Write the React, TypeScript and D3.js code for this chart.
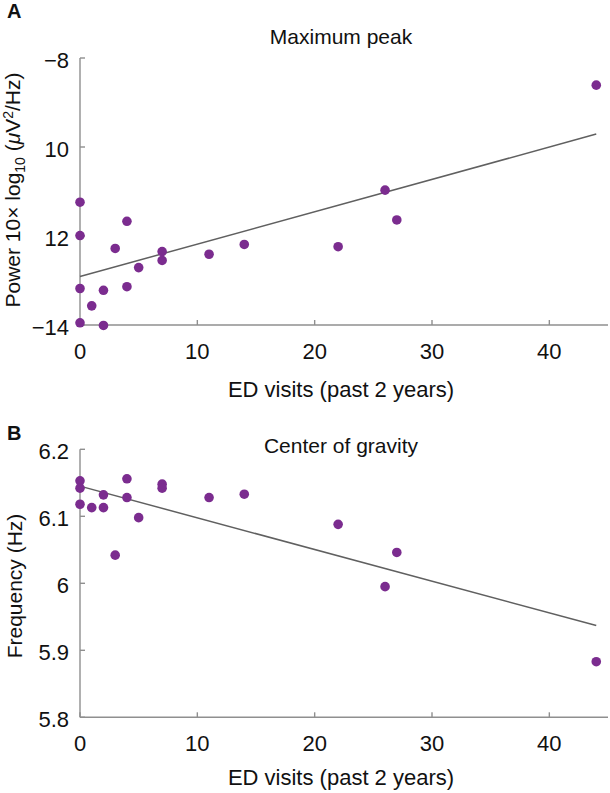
import React from "react";
import * as d3 from "d3";

// Panel A: Maximum peak
const edVisitsA = [0, 0, 0, 0, 1, 2, 2, 3, 4, 4, 5, 7, 7, 11, 14, 22, 26, 27, 44];
const powerA = [-11.24, -11.99, -13.18, -13.95, -13.57, -13.22, -14.01, -12.28, -11.67, -13.14, -12.71, -12.35, -12.55, -12.41, -12.19, -12.24, -10.97, -11.64, -8.61];
const fitXA = [0, 44];
const fitYA = [-12.91, -9.71];
const yTicksA = [-8, -10, -12, -14];
const yTickLabelsA = ["\u22128", "10", "12", "\u221214"];

// Panel B: Center of gravity
const edVisitsB = [0, 0, 0, 1, 2, 2, 3, 4, 4, 5, 7, 7, 11, 14, 22, 26, 27, 44];
const freqB = [6.153, 6.142, 6.118, 6.113, 6.132, 6.113, 6.042, 6.156, 6.128, 6.098, 6.148, 6.142, 6.128, 6.133, 6.088, 5.995, 6.046, 5.883];
const fitXB = [0, 44];
const fitYB = [6.145, 5.937];
const yTicksB = [5.8, 5.9, 6.0, 6.1, 6.2];
const yTickLabelsB = ["5.8", "5.9", "6", "6.1", "6.2"];

const xTicks = [0, 10, 20, 30, 40];

const FONT = "'Liberation Sans', Arial, Helvetica, sans-serif";
const AXIS = "#8f8f8f";
const DOT = "#7b2c8f";
const LINE = "#606060";

type PanelProps = {
  xs: number[];
  ys: number[];
  fitX: number[];
  fitY: number[];
  yDomain: [number, number];
  yRange: [number, number];
  yTicks: number[];
  yTickLabels: string[];
  title: string;
  titleY: number;
  xLabelY: number;
  letter: string;
  letterY: number;
  yLabel: React.ReactNode;
  yLabelX: number;
  yLabelY: number;
};

function Panel(p: PanelProps) {
  const x = d3.scaleLinear().domain([0, 45]).range([80, 608]);
  const y = d3.scaleLinear().domain(p.yDomain).range(p.yRange);
  const baseY = p.yRange[0];
  const topY = p.yRange[1];
  const line = d3
    .line<number>()
    .x((d) => x(d))
    .y((_, i) => y(p.fitY[i]));
  return (
    <g>
      <text x={7} y={p.letterY} fontFamily={FONT} fontWeight="bold" fontSize={20} fill="#111">
        {p.letter}
      </text>
      <text x={341} y={p.titleY} textAnchor="middle" fontFamily={FONT} fontSize={21} fill="#111">
        {p.title}
      </text>
      {/* axes */}
      <line x1={x(0)} x2={x(0)} y1={topY} y2={baseY} stroke={AXIS} strokeWidth={1.4} />
      <line x1={x(0)} x2={608} y1={baseY} y2={baseY} stroke={AXIS} strokeWidth={1.4} />
      {p.yTicks.map((t, i) => (
        <g key={"yt" + i}>
          <line x1={x(0)} x2={x(0) + 5} y1={y(t)} y2={y(t)} stroke={AXIS} strokeWidth={1.4} />
          <text x={69} y={y(t) + 10} textAnchor="end" fontFamily={FONT} fontSize={22} fill="#111">
            {p.yTickLabels[i]}
          </text>
        </g>
      ))}
      {xTicks.map((t) => (
        <g key={"xt" + t}>
          <line x1={x(t)} x2={x(t)} y1={baseY} y2={baseY - 5} stroke={AXIS} strokeWidth={1.4} />
          <text x={x(t)} y={baseY + 34} textAnchor="middle" fontFamily={FONT} fontSize={22} fill="#111">
            {t}
          </text>
        </g>
      ))}
      <text x={341} y={p.xLabelY} textAnchor="middle" fontFamily={FONT} fontSize={22} fill="#111">
        ED visits (past 2 years)
      </text>
      <text
        x={p.yLabelX}
        y={p.yLabelY}
        transform={`rotate(-90, ${p.yLabelX}, ${p.yLabelY})`}
        textAnchor="middle"
        fontFamily={FONT}
        fontSize={21}
        fill="#111"
      >
        {p.yLabel}
      </text>
      {/* fit line */}
      <path d={line(p.fitX) || ""} fill="none" stroke={LINE} strokeWidth={1.5} />
      {/* points */}
      {p.xs.map((v, i) => (
        <circle key={"pt" + i} cx={x(v)} cy={y(p.ys[i])} r={4.8} fill={DOT} />
      ))}
    </g>
  );
}

export default function App() {
  return (
    <svg
      width={610}
      height={793}
      style={{ position: "absolute", left: 0, top: 0, background: "#fff" }}
    >
      <rect width={610} height={793} fill="#fff" />
      <Panel
        xs={edVisitsA}
        ys={powerA}
        fitX={fitXA}
        fitY={fitYA}
        yDomain={[-14, -8]}
        yRange={[325, 58]}
        yTicks={yTicksA}
        yTickLabels={yTickLabelsA}
        title="Maximum peak"
        titleY={44}
        xLabelY={397}
        letter="A"
        letterY={18}
        yLabelX={20}
        yLabelY={190}
        yLabel={
          <>
            <tspan>Power 10× log</tspan>
            <tspan fontSize={14} dy={5}>10</tspan>
            <tspan dy={-5}> (</tspan>
            <tspan fontStyle="italic">μ</tspan>
            <tspan>V</tspan>
            <tspan fontSize={14} dy={-7}>2</tspan>
            <tspan dy={7}>/Hz)</tspan>
          </>
        }
      />
      <Panel
        xs={edVisitsB}
        ys={freqB}
        fitX={fitXB}
        fitY={fitYB}
        yDomain={[5.8, 6.2]}
        yRange={[717.3, 449.3]}
        yTicks={yTicksB}
        yTickLabels={yTickLabelsB}
        title="Center of gravity"
        titleY={453}
        xLabelY={785}
        letter="B"
        letterY={440}
        yLabelX={22}
        yLabelY={586}
        yLabel="Frequency (Hz)"
      />
    </svg>
  );
}
